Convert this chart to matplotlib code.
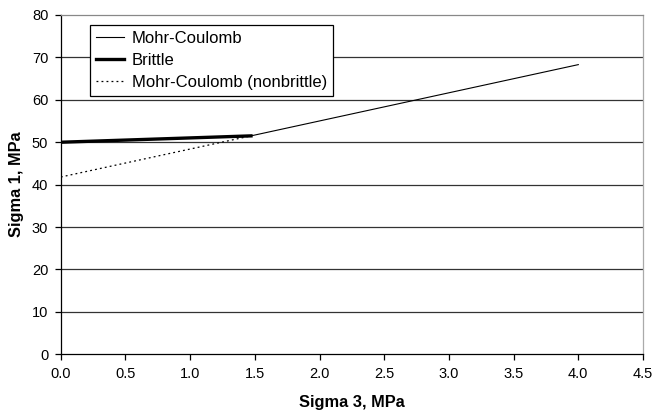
import matplotlib
matplotlib.use("Agg")
import matplotlib.pyplot as plt

plt.rcParams['font.family'] = ['Liberation Sans', 'DejaVu Sans']

# Data
mc_s3 = [1.47, 4.0]
mc_s1 = [51.5, 68.3]
brittle_s3 = [0.0, 1.47]
brittle_s1 = [50.0, 51.5]
nonbrittle_s3 = [0.0, 1.47]
nonbrittle_s1 = [41.8, 51.5]
x_ticks = [0.0, 0.5, 1.0, 1.5, 2.0, 2.5, 3.0, 3.5, 4.0, 4.5]
y_ticks = [0, 10, 20, 30, 40, 50, 60, 70, 80]

fig = plt.figure(figsize=(6.52, 4.12), dpi=100)
ax = fig.add_axes([60.8/652, 1-354.3/412, (643-60.8)/652, (354.3-15)/412])

for y in y_ticks[1:-1]:
    ax.axhline(y, color='#333333', lw=0.9, zorder=1)

ax.plot(mc_s3, mc_s1, color='black', lw=0.8, label='Mohr-Coulomb', zorder=3)
ax.plot(brittle_s3, brittle_s1, color='black', lw=2.4, label='Brittle', zorder=4)
ax.plot(nonbrittle_s3, nonbrittle_s1, color='black', lw=0.9, linestyle=(0, (1.5, 2.5)),
        label='Mohr-Coulomb (nonbrittle)', zorder=3)

ax.set_xlim(0, 4.5)
ax.set_ylim(0, 80)
ax.set_xticks(x_ticks)
ax.set_xticklabels([f"{v:.1f}" for v in x_ticks])
ax.set_yticks(y_ticks)
ax.tick_params(direction='out', length=4, width=0.9, labelsize=10.5, colors='black', pad=5)

ax.spines['left'].set_color('black')
ax.spines['bottom'].set_color('black')
ax.spines['top'].set_color('#888888')
ax.spines['right'].set_color('#aaaaaa')
for s in ax.spines.values():
    s.set_linewidth(0.9)

ax.set_xlabel('Sigma 3, MPa', fontsize=11.8, fontweight='bold', labelpad=10)
ax.set_ylabel('Sigma 1, MPa', fontsize=11.8, fontweight='bold', labelpad=6)

leg = ax.legend(loc='upper left', bbox_to_anchor=(90/652, 1-24.7/412),
                bbox_transform=fig.transFigure, fontsize=12, frameon=True,
                fancybox=False, edgecolor='black', framealpha=1, borderaxespad=0,
                handlelength=1.7, handletextpad=0.45, labelspacing=0.42,
                borderpad=0.36)
leg.get_frame().set_linewidth(0.9)

fig.savefig('out.png', dpi=100)
